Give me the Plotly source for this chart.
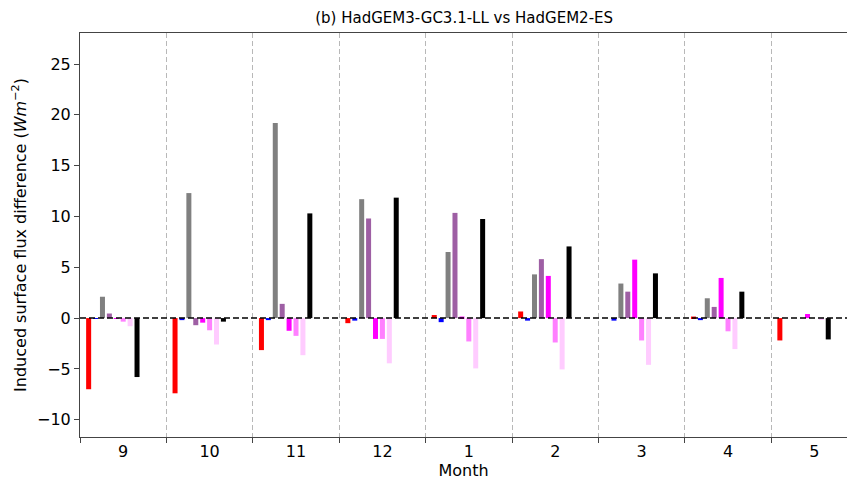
import numpy as np
import plotly.graph_objects as go

months = ["9", "10", "11", "12", "1", "2", "3", "4", "5"]
colors = ["#ff0000", "#0000ff", "#808080", "#9e5fa4", "#ff00ff", "#ff80ff", "#ffccff", "#000000"]

s_red = [-7.0, -7.4, -3.15, -0.5, 0.3, 0.65, 0.0, 0.15, -2.2]
s_blue = [-0.05, -0.2, -0.2, -0.25, -0.4, -0.25, -0.25, -0.2, 0.0]
s_gray = [2.1, 12.3, 19.2, 11.7, 6.5, 4.3, 3.4, 1.95, 0.0]
s_purple = [0.45, -0.7, 1.4, 9.8, 10.35, 5.8, 2.6, 1.1, 0.0]
s_magenta = [-0.05, -0.45, -1.25, -2.05, 0.15, 4.15, 5.75, 3.95, 0.4]
s_violet = [-0.35, -1.2, -1.75, -2.05, -2.3, -2.4, -2.2, -1.3, 0.0]
s_pink = [-0.8, -2.6, -3.65, -4.45, -4.95, -5.05, -4.6, -3.05, -0.1]
s_black = [-5.8, -0.35, 10.3, 11.85, 9.75, 7.05, 4.4, 2.6, -2.1]

series = [s_red, s_blue, s_gray, s_purple, s_magenta, s_violet, s_pink, s_black]

idx = np.arange(len(months))
bar_w = 0.058
step = 0.08

fig = go.Figure()
for i, (vals, col) in enumerate(zip(series, colors)):
    fig.add_trace(go.Bar(
        x=idx, y=vals, width=bar_w, offset=-0.4 + step * i - bar_w / 2,
        marker=dict(color=col, line=dict(width=0)), showlegend=False,
    ))

fig.add_shape(type="line", xref="paper", yref="y", x0=0, x1=1, y0=0, y1=0,
              line=dict(color="black", width=1.5, dash="6px,3px"), layer="above")

fig.update_layout(
    width=847, height=483,
    margin=dict(l=80, r=0, t=33, b=46),
    plot_bgcolor="white", paper_bgcolor="white",
    font=dict(family="DejaVu Sans", size=16, color="black"),
    barmode="overlay",
    title=dict(text="(b) HadGEM3-GC3.1-LL vs HadGEM2-ES", x=0.548, xanchor="center",
               y=0.963, yanchor="middle", font=dict(size=15)),
    xaxis=dict(
        range=[-0.5, 8.377], tickvals=idx, ticktext=months, ticks="",
        showgrid=False, zeroline=False, showline=True, linecolor="#444", linewidth=1, mirror=True,
        title=dict(text="Month", standoff=4, font=dict(size=16)),
        tickfont=dict(size=16),
        minor=dict(tick0=0.5, dtick=1, ticks="outside", ticklen=5, tickcolor="#444",
                   showgrid=True, gridcolor="#b8b8b8", griddash="5px,3px", gridwidth=1),
    ),
    yaxis=dict(
        range=[-11.7, 28.05], tickvals=[-10, -5, 0, 5, 10, 15, 20, 25],
        ticks="outside", ticklen=5, tickcolor="#444",
        showgrid=False, zeroline=False, showline=True, linecolor="#444", linewidth=1, mirror=False,
        title=dict(text="Induced surface flux difference (<i>Wm</i><sup>−2</sup>)", standoff=6,
                   font=dict(size=16)),
        tickfont=dict(size=16),
    ),
)

fig.write_html("out.html")
